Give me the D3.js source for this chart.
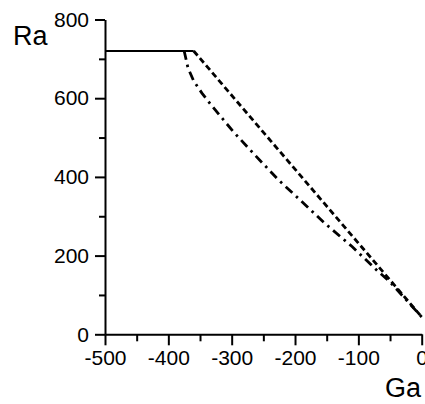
<!DOCTYPE html>
<html>
<head>
<meta charset="utf-8">
<script src="https://cdn.jsdelivr.net/npm/d3@7"></script>
<style>
  body { margin: 0; background: #fff; }
  svg { display: block; font-family: "Liberation Sans", Arial, sans-serif; }
  .axis path, .axis line { stroke: #000; stroke-width: 2; }
  .axis text { font-size: 21px; fill: #000; }
  .line { fill: none; stroke: #000; stroke-width: 2.2; }
</style>
</head>
<body>
<svg id="chart" width="425" height="404"></svg>
<script>
// Data
var xTicks = [-500, -400, -300, -200, -100, 0];
var xMinor = [-450, -350, -250, -150, -50];
var yTicks = [0, 200, 400, 600, 800];
var yMinor = [100, 300, 500, 700];

var solidGa = [-500, -360];
var solidRa = [720, 720];

var dashGa = [-360, 0];
var dashRa = [720, 44];

var dotdashGa = [-375, -369, -360, -347, -330, -298, -263, -226, -189, -153, -110, -71, -50, 0];
var dotdashRa = [720, 677, 644, 613, 578, 516, 455, 392, 337, 282, 223, 163, 133, 44];

// canvas
var margin = {top: 19.5, left: 105},
    width = 316.7,
    height = 314.8;

var svg = d3.select("#chart");
var chart = svg.append("g")
    .attr("transform", "translate(" + margin.left + "," + margin.top + ")");

var x = d3.scaleLinear().domain([-500, 0]).range([0, width]);
var y = d3.scaleLinear().domain([0, 800]).range([height, 0]);

// plain hyphen for negatives, like the original
var plain = function(d) { return String(d); };

var valueline = d3.line()
    .x(function(d) { return x(d[0]); })
    .y(function(d) { return y(d[1]); });

// minor ticks
chart.append("g")
    .attr("class", "axis")
    .call(d3.axisLeft(y).tickValues(yMinor).tickSize(6).tickSizeOuter(0).tickFormat(""))
    .select(".domain").remove();
chart.append("g")
    .attr("class", "axis")
    .attr("transform", "translate(0," + height + ")")
    .call(d3.axisBottom(x).tickValues(xMinor).tickSize(7).tickSizeOuter(0).tickFormat(""))
    .select(".domain").remove();

// major axes
chart.append("g")
    .attr("class", "axis")
    .call(d3.axisLeft(y).tickValues(yTicks).tickSize(10).tickSizeOuter(0).tickPadding(6).tickFormat(plain));
chart.append("g")
    .attr("class", "axis")
    .attr("transform", "translate(0," + height + ")")
    .call(d3.axisBottom(x).tickValues(xTicks).tickSize(11).tickSizeOuter(0).tickPadding(5).tickFormat(plain));

// the lines
chart.append("path")
    .attr("class", "line")
    .attr("d", valueline(d3.zip(solidGa, solidRa)));
chart.append("path")
    .attr("class", "line")
    .style("stroke-width", 2.8)
    .attr("stroke-dasharray", "6,3.5")
    .attr("d", valueline(d3.zip(dashGa, dashRa)));
chart.append("path")
    .attr("class", "line")
    .style("stroke-width", 2.8)
    .attr("stroke-dasharray", "9,5,2.5,5")
    .attr("d", valueline(d3.zip(dotdashGa, dotdashRa)));

// axis titles
svg.append("text")
    .attr("x", 13)
    .attr("y", 45)
    .style("font-size", "27px")
    .text("Ra");
svg.append("text")
    .attr("x", 385)
    .attr("y", 397)
    .style("font-size", "27px")
    .text("Ga");
</script>
</body>
</html>
